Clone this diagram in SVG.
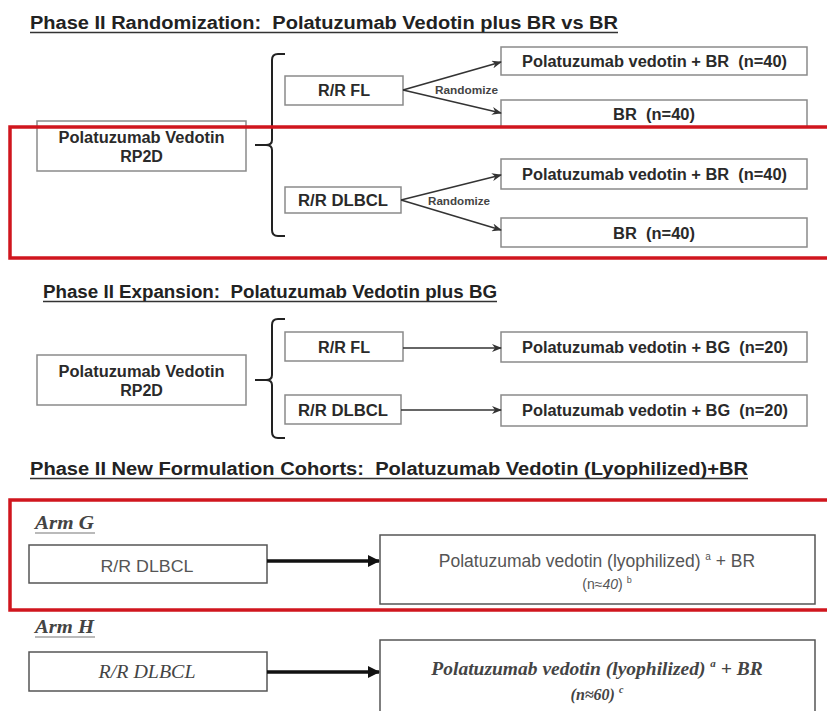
<svg xmlns="http://www.w3.org/2000/svg" width="827" height="711" viewBox="0 0 827 711">
<defs>
<marker id="ah" markerWidth="10" markerHeight="8" refX="9" refY="4" orient="auto" markerUnits="userSpaceOnUse">
<path d="M0,0 L10,4 L0,8 L3,4 Z" fill="#333"/>
</marker>
<marker id="ahb" markerWidth="12" markerHeight="12" refX="11" refY="6" orient="auto" markerUnits="userSpaceOnUse">
<path d="M0,0 L12,6 L0,12 Z" fill="#111"/>
</marker>
</defs>
<style>
.box{fill:#fff;stroke:#8a8a8a;stroke-width:1.5}
.box2{fill:#fff;stroke:#555;stroke-width:1.5}
.t{font-family:"Liberation Sans",Arial,sans-serif;font-weight:bold;fill:#2a2a2a;white-space:pre;font-size:16px}
.title{font-family:"Liberation Sans",Arial,sans-serif;font-weight:bold;fill:#222;font-size:17.5px;white-space:pre}
.ul{stroke:#333;stroke-width:1.3}
.rnd{font-family:"Liberation Sans",Arial,sans-serif;font-weight:bold;fill:#444;font-size:10.5px}
.ln{stroke:#333;stroke-width:1.6;fill:none}
.thick{stroke:#111;stroke-width:3.5;fill:none}
.brace{stroke:#222;stroke-width:2;fill:none}
.red{fill:none;stroke:#d0161e;stroke-width:3.5}
.serif{font-family:"Liberation Serif","Times New Roman",serif;font-style:italic;fill:#444}
.reg{font-family:"Liberation Sans",Arial,sans-serif;fill:#555}
</style>
<rect width="827" height="711" fill="#fff"/>

<!-- Section 1 -->
<g id="title1">
<text class="title" x="30" y="29" textLength="588" lengthAdjust="spacingAndGlyphs">Phase II Randomization:  Polatuzumab Vedotin plus BR vs BR</text>
<line class="ul" x1="30" y1="32.5" x2="618" y2="32.5"/>
</g>
<g id="rp2d1">
<rect class="box" x="37" y="121" width="209" height="50"/>
<text class="t" x="141.5" y="143" text-anchor="middle" textLength="166" lengthAdjust="spacingAndGlyphs">Polatuzumab Vedotin</text>
<text class="t" x="141.5" y="162" text-anchor="middle">RP2D</text>
</g>
<g id="fl1">
<rect class="box" x="285" y="76" width="118" height="29"/>
<text class="t" x="344" y="96" text-anchor="middle" textLength="52" lengthAdjust="spacingAndGlyphs">R/R FL</text>
</g>
<g id="dlbcl1">
<rect class="box" x="285" y="187" width="116" height="26"/>
<text class="t" x="343" y="206" text-anchor="middle" textLength="90" lengthAdjust="spacingAndGlyphs">R/R DLBCL</text>
</g>
<g id="arm1a">
<rect class="box" x="501" y="47" width="306" height="28"/>
<text class="t" x="654.5" y="67" text-anchor="middle" textLength="265" lengthAdjust="spacingAndGlyphs">Polatuzumab vedotin + BR  (n=40)</text>
</g>
<g id="arm1b">
<rect class="box" x="501" y="100" width="306" height="27"/>
<text class="t" x="654" y="120" text-anchor="middle" textLength="82" lengthAdjust="spacingAndGlyphs">BR  (n=40)</text>
</g>
<g id="arm1c">
<rect class="box" x="501" y="159" width="306" height="30"/>
<text class="t" x="654.5" y="180" text-anchor="middle" textLength="265" lengthAdjust="spacingAndGlyphs">Polatuzumab vedotin + BR  (n=40)</text>
</g>
<g id="arm1d">
<rect class="box" x="501" y="218" width="306" height="29"/>
<text class="t" x="654" y="239" text-anchor="middle" textLength="82" lengthAdjust="spacingAndGlyphs">BR  (n=40)</text>
</g>

<!-- Section 2 -->
<g id="title2">
<text class="title" x="43" y="298" textLength="454" lengthAdjust="spacingAndGlyphs">Phase II Expansion:  Polatuzumab Vedotin plus BG</text>
<line class="ul" x1="43" y1="301.5" x2="497" y2="301.5"/>
</g>
<g id="rp2d2">
<rect class="box" x="37" y="355" width="209" height="50"/>
<text class="t" x="141.5" y="377" text-anchor="middle" textLength="166" lengthAdjust="spacingAndGlyphs">Polatuzumab Vedotin</text>
<text class="t" x="141.5" y="396" text-anchor="middle">RP2D</text>
</g>
<g id="fl2">
<rect class="box" x="285" y="332" width="118" height="29"/>
<text class="t" x="344" y="353" text-anchor="middle" textLength="52" lengthAdjust="spacingAndGlyphs">R/R FL</text>
</g>
<g id="dlbcl2">
<rect class="box" x="285" y="395" width="116" height="29"/>
<text class="t" x="343" y="416" text-anchor="middle" textLength="90" lengthAdjust="spacingAndGlyphs">R/R DLBCL</text>
</g>
<g id="arm2a">
<rect class="box" x="501" y="332" width="306" height="30"/>
<text class="t" x="655" y="353" text-anchor="middle" textLength="266" lengthAdjust="spacingAndGlyphs">Polatuzumab vedotin + BG  (n=20)</text>
</g>
<g id="arm2b">
<rect class="box" x="501" y="395" width="306" height="31"/>
<text class="t" x="655" y="416" text-anchor="middle" textLength="266" lengthAdjust="spacingAndGlyphs">Polatuzumab vedotin + BG  (n=20)</text>
</g>

<!-- Section 3 -->
<g id="title3">
<text class="title" x="30" y="475" textLength="718" lengthAdjust="spacingAndGlyphs">Phase II New Formulation Cohorts:  Polatuzumab Vedotin (Lyophilized)+BR</text>
<line class="ul" x1="30" y1="478.5" x2="748" y2="478.5"/>
</g>
<g id="armG">
<text class="serif" font-weight="bold" font-size="18" x="35" y="529" textLength="59" lengthAdjust="spacingAndGlyphs">Arm G</text>
<line stroke="#777" stroke-width="1.2" x1="35" y1="533" x2="95" y2="533"/>
</g>
<g id="dlbclG">
<rect class="box2" x="29" y="545" width="238" height="38"/>
<text class="reg" font-size="17" x="147" y="572" text-anchor="middle" textLength="93" lengthAdjust="spacingAndGlyphs">R/R DLBCL</text>
</g>
<g id="armGbox">
<rect class="box2" x="380" y="535" width="435" height="69"/>
<text class="reg" font-size="17.5" x="597" y="567" text-anchor="middle">Polatuzumab vedotin (lyophilized) <tspan font-size="10" dy="-7">a</tspan><tspan dy="7"> + BR</tspan></text>
<text class="reg" font-size="14" x="607" y="589" text-anchor="middle">(n≈<tspan font-style="italic">40</tspan>) <tspan font-size="9" dy="-6">b</tspan></text>
</g>
<g id="armH">
<text class="serif" font-weight="bold" font-size="18" x="35" y="633" textLength="59" lengthAdjust="spacingAndGlyphs">Arm H</text>
<line stroke="#777" stroke-width="1.2" x1="35" y1="637" x2="95" y2="637"/>
</g>
<g id="dlbclH">
<rect class="box2" x="29" y="652" width="238" height="39"/>
<text class="serif" font-size="18" x="147" y="678" text-anchor="middle" textLength="97" lengthAdjust="spacingAndGlyphs">R/R DLBCL</text>
</g>
<g id="armHbox">
<rect class="box2" x="380" y="640" width="435" height="80"/>
<text class="serif" font-weight="bold" font-size="19.5" x="597" y="675" text-anchor="middle">Polatuzumab vedotin (lyophilized) <tspan font-size="11" dy="-8">a</tspan><tspan dy="8"> + BR</tspan></text>
<text class="serif" font-weight="bold" font-size="16" x="597" y="700" text-anchor="middle">(n≈60) <tspan font-size="10" dy="-7">c</tspan></text>
</g>

<!-- Connectors -->
<g id="connectors">
<path class="brace" d="M285,54 L278,54 Q272,54 272,60 L272,140 Q272,145 266,145 L255,145 M266,145 Q272,145 272,150 L272,230 Q272,236 278,236 L285,236"/>
<path class="brace" d="M285,319 L278,319 Q272,319 272,325 L272,375 Q272,380 266,380 L255,380 M266,380 Q272,380 272,385 L272,432 Q272,438 278,438 L285,438"/>
<line class="ln" x1="403" y1="90" x2="501" y2="62" marker-end="url(#ah)"/>
<line class="ln" x1="403" y1="90" x2="501" y2="113" marker-end="url(#ah)"/>
<line class="ln" x1="401" y1="200" x2="501" y2="175" marker-end="url(#ah)"/>
<line class="ln" x1="401" y1="200" x2="501" y2="230" marker-end="url(#ah)"/>
<line class="ln" x1="403" y1="348" x2="501" y2="348" marker-end="url(#ah)"/>
<line class="ln" x1="401" y1="410" x2="501" y2="410" marker-end="url(#ah)"/>
<line class="thick" x1="267" y1="561" x2="379" y2="561" marker-end="url(#ahb)"/>
<line class="thick" x1="267" y1="672" x2="379" y2="672" marker-end="url(#ahb)"/>
<text class="rnd" x="435" y="94" textLength="63" lengthAdjust="spacingAndGlyphs">Randomize</text>
<text class="rnd" x="428" y="205" textLength="62" lengthAdjust="spacingAndGlyphs">Randomize</text>
</g>

<!-- Highlight frames -->
<g id="highlights">
<rect class="red" x="10" y="127" width="830" height="131"/>
<rect class="red" x="10" y="500" width="830" height="110"/>
</g>
</svg>
